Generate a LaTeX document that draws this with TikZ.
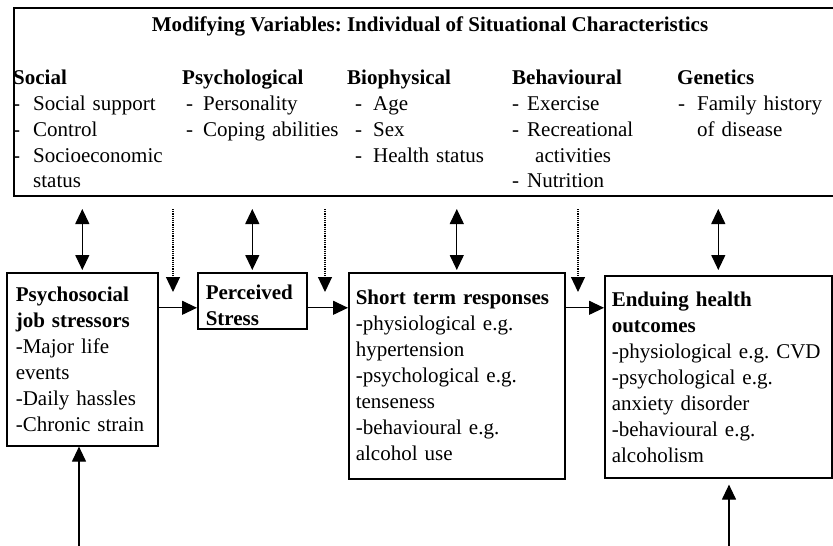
\documentclass[tikz,border=0pt]{standalone}
\usepackage{fontspec}
\setmainfont{Liberation Serif}
\usepackage{tikz}
\usetikzlibrary{arrows.meta,positioning}

\newcommand{\dashit}[2]{\hspace*{#1pt}\makebox[#2pt][l]{-}}
\frenchspacing

\begin{document}
\begin{tikzpicture}[x=1pt, y=-1pt, font=\fontsize{21}{26}\selectfont]
    \tikzstyle{box}=[rectangle, draw=black, line width=1.6pt, anchor=north west, align=left, inner ysep=4pt]
    \tikzstyle{varcol}=[anchor=base west, text width=160pt, align=left, inner sep=0pt]
    \tikzstyle{connect}=[-{Triangle[width=14pt,length=15pt]}, line width=1.2pt]
    \tikzstyle{mutual}=[{Triangle[width=14pt,length=15pt]}-{Triangle[width=14pt,length=15pt]}, line width=1.2pt, shorten <=12pt, shorten >=2pt]
    \tikzstyle{moderate}=[connect, densely dotted, shorten <=12pt]

      \useasboundingbox (0,0) rectangle (833,546);

      % modifying variables
      \node[draw, line width=2pt, anchor=north west, minimum width=830pt, minimum height=188pt, inner sep=0pt] (modvars) at (13,7) {};
      \node[anchor=base] (title) at (430,31) {\textbf{Modifying Variables: Individual of Situational Characteristics}};
      \node[varcol] (social) at (13,84) {\textbf{Social}\\ \dashit{0}{20}Social support\\ \dashit{0}{20}Control\\ \dashit{0}{20}Socioeconomic\\ \hspace*{20pt}status};
      \node[varcol] (psych) at (182,84) {\textbf{Psychological}\\ \dashit{4}{17}Personality\\ \dashit{4}{17}Coping abilities};
      \node[varcol] (biophys) at (347,84) {\textbf{Biophysical}\\ \dashit{8}{18}Age\\ \dashit{8}{18}Sex\\ \dashit{8}{18}Health status};
      \node[varcol] (behav) at (512,84) {\textbf{Behavioural}\\ \dashit{0}{15}Exercise\\ \dashit{0}{15}Recreational\\ \hspace*{23pt}activities\\ \dashit{0}{15}Nutrition};
      \node[varcol] (genetics) at (677,84) {\textbf{Genetics}\\ \dashit{1}{19}Family history\\ \hspace*{20pt}of disease};

      % stress process
      \node[box, text width=133pt, inner xsep=9pt, text height=25pt, text depth=140pt] (stressors) at (6,272) {\textbf{Psychosocial}\\ \textbf{job stressors}\\ -Major life\\ events\\ -Daily hassles\\ -Chronic strain};
      \node[box, text width=93pt, inner xsep=8pt, text height=23pt, text depth=25pt] (perceived) at (197,272) {\textbf{Perceived}\\ \textbf{Stress}};
      \node[box, text width=202pt, inner xsep=7pt, text height=28pt, text depth=170pt] (shortterm) at (348,272) {\textbf{Short term responses}\\ -physiological e.g.\\ hypertension\\ -psychological e.g.\\ tenseness\\ -behavioural e.g.\\ alcohol use};
      \node[box, text width=213pt, inner xsep=7pt, text height=27pt, text depth=167pt] (enduring) at (604,275) {\textbf{Enduing health}\\ \textbf{outcomes}\\ -physiological e.g. CVD\\ -psychological e.g.\\ anxiety disorder\\ -behavioural e.g.\\ alcoholism};

      \coordinate (lvl) at ([yshift=-7pt]stressors.north |- perceived.west);
      \coordinate (mod1) at (173,292);
      \coordinate (mod2) at (325,292);
      \coordinate (mod3) at (578,292);
      \coordinate (src1) at (79,546);
      \coordinate (src2) at (729,546);

      \path
        (stressors.north |- modvars.south) edge [mutual] (stressors.north)
        (perceived.north |- modvars.south) edge [mutual] (perceived.north)
        (shortterm.north |- modvars.south) edge [mutual] (shortterm.north)
        (enduring.north |- modvars.south) edge [mutual, shorten >=5pt] (enduring.north)
        (mod1 |- modvars.south) edge [moderate] (mod1)
        (mod2 |- modvars.south) edge [moderate] (mod2)
        (mod3 |- modvars.south) edge [moderate] (mod3)
        (stressors.east |- lvl) edge [connect] (perceived.west |- lvl)
        (perceived.east |- lvl) edge [connect] (shortterm.west |- lvl)
        (shortterm.east |- lvl) edge [connect] (enduring.west |- lvl)
        (src1) edge [connect] (src1 |- stressors.south)
        (src2) edge [connect, shorten >=6pt] (src2 |- enduring.south);
    \end{tikzpicture}
\end{document}
